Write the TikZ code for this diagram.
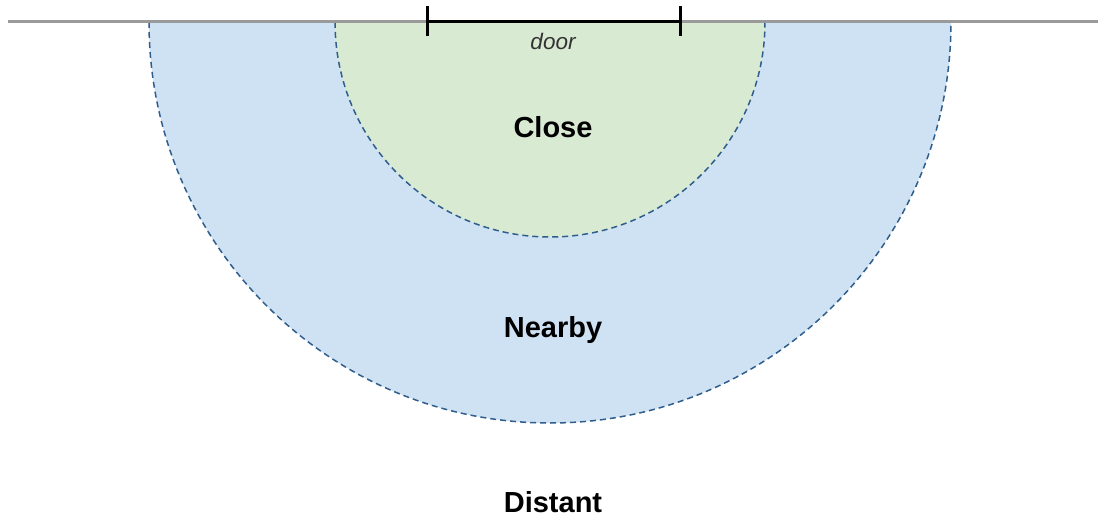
\documentclass[tikz,border=0pt]{standalone}
\usepackage{fontspec}
\setmainfont{Liberation Sans}
\usetikzlibrary{arrows.meta}

\definecolor{nearfill}{HTML}{CFE2F3}
\definecolor{closefill}{HTML}{D9EAD3}
\definecolor{rimline}{HTML}{2F5D8C}
\definecolor{wallline}{HTML}{9A9A9A}

\begin{document}
\begin{tikzpicture}[
    x=1pt, y=-1pt,
    zone/.style={draw=rimline, line width=1.5pt, dash pattern=on 6pt off 4pt},
    label/.style={anchor=base, font=\fontsize{29}{32}\selectfont\bfseries},
    bar/.style={{Bar[width=30pt, line width=3pt]}-{Bar[width=30pt, line width=3pt]}, line width=3pt}
]
\useasboundingbox (0,0) rectangle (1100,519);

\coordinate (center) at (550,22);

% zones
\fill[nearfill] (149,22) arc[start angle=180, end angle=0, radius=401] -- cycle;
\draw[zone] (149,22) arc[start angle=180, end angle=0, radius=401];
\fill[closefill] (335,22) arc[start angle=180, end angle=0, radius=215] -- cycle;
\draw[zone] (335,22) arc[start angle=180, end angle=0, radius=215];

% wall and door
\coordinate (wall_left) at (8,21.5);
\coordinate (wall_right) at (1098,21.5);
\draw[wallline, line width=2.5pt] (wall_left) -- (wall_right);

\coordinate (door_left) at (426,21.5);
\coordinate (door_right) at (682,21.5);
\draw[bar] (door_left) -- (door_right);

\node[anchor=base, font=\fontsize{22.5}{25}\selectfont\itshape, text=black!80] (door_label) at (553,49) {door};
\node[label] (close_label) at (553,137) {Close};
\node[label] (nearby_label) at (553,337) {Nearby};
\node[label] (distant_label) at (553,512) {Distant};

\end{tikzpicture}
\end{document}
